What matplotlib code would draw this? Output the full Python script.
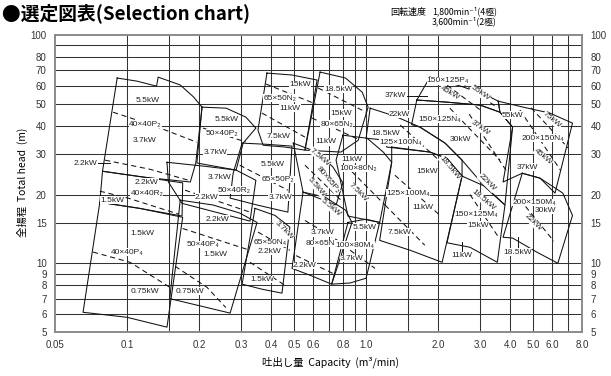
import matplotlib.pyplot as plt
from matplotlib.ticker import FixedLocator, NullLocator, FixedFormatter

CJK = ['Noto Sans CJK JP', 'DejaVu Sans']
LAB = ['Liberation Sans', 'DejaVu Sans']

# axis grid / ticks
x_grid = [0.1, 0.15, 0.2, 0.3, 0.4, 0.5, 0.6, 0.7, 0.8, 0.9, 1.0, 1.5, 2.0, 3.0, 4.0, 5.0, 6.0, 7.0]
x_ticks = [0.05, 0.1, 0.2, 0.3, 0.4, 0.5, 0.6, 0.8, 1.0, 2.0, 3.0, 4.0, 5.0, 6.0, 8.0]
x_tick_labels = ['0.05', '0.1', '0.2', '0.3', '0.4', '0.5', '0.6', '0.8', '1.0',
                 '2.0', '3.0', '4.0', '5.0', '6.0', '8.0']
y_grid = [6, 7, 8, 9, 10, 15, 20, 30, 40, 50, 60, 70, 80, 90]
y_ticks = [5, 6, 7, 8, 9, 10, 15, 20, 30, 40, 50, 60, 70, 80, 100]

# pump envelopes (capacity m3/min, head m)
env_40x40P2 = [(0.091, 64.8), (0.11, 62.8), (0.133, 59.7), (0.135, 65.4), (0.167, 60.4), (0.19, 53.5),
               (0.206, 48.3), (0.194, 27.5), (0.184, 22.7), (0.119, 23.8), (0.079, 25.3)]
env_50x40P2 = [(0.206, 48.3), (0.26, 47.8), (0.314, 43.7), (0.346, 39.1), (0.306, 33.6), (0.286, 25.6),
               (0.196, 27.5)]
env_65x50N2 = [(0.385, 68.1), (0.49, 66.8), (0.624, 63.5), (0.555, 31.3), (0.458, 32.3), (0.371, 32.9),
               (0.353, 38.3)]
env_80x65N2 = [(0.642, 68.8), (0.82, 64.8), (0.963, 56.2), (1.02, 48.3), (0.927, 34.6), (0.785, 30.7),
               (0.555, 31.3)]
env_40x40R2 = [(0.079, 25.3), (0.119, 23.8), (0.171, 22.5), (0.170, 16.1), (0.113, 17.4), (0.077, 18.5)]
env_40x40P4 = [(0.077, 18.5), (0.113, 17.4), (0.171, 15.9), (0.147, 5.25), (0.1, 5.8), (0.0655, 6.1)]
env_50x40R2 = [(0.147, 27.7), (0.212, 26.6), (0.286, 25.6), (0.346, 23.1), (0.327, 15.3), (0.17, 18.3),
               (0.149, 22.7)]
env_50x40P4 = [(0.167, 18.9), (0.229, 18.0), (0.296, 16.6), (0.35, 15.1), (0.27, 6.05), (0.203, 6.5),
               (0.151, 7.0)]
env_65x50P2 = [(0.303, 33.6), (0.385, 33.2), (0.49, 32.6), (0.471, 16.75), (0.35, 18.0), (0.27, 19.3),
               (0.278, 24.8)]
env_80x65P2 = [(0.496, 33.6), (0.624, 30.7), (0.727, 26.4), (0.8, 22.5), (0.749, 18.0), (0.545, 20.5)]
env_100x80N2 = [(0.8, 36.4), (1.01, 35.3), (1.18, 30.7), (1.28, 27.7), (1.14, 15.1), (0.84, 16.1),
                (0.749, 28.3)]
env_65x50N4 = [(0.343, 17.4), (0.416, 16.2), (0.48, 14.4), (0.445, 7.4), (0.367, 7.7), (0.303, 8.1)]
env_80x65N4 = [(0.545, 20.5), (0.673, 19.5), (0.82, 17.1), (0.873, 15.1), (0.718, 8.1), (0.593, 8.8),
               (0.49, 9.5)]
env_100x80M4 = [(0.84, 15.1), (1.0, 15.6), (1.14, 15.1), (1.0, 8.6), (0.858, 8.2), (0.718, 8.1)]
env_125x100N = [(1.04, 47.8), (1.32, 44.1), (1.68, 39.5), (2.14, 33.6), (2.52, 28.3), (2.52, 24.1),
                (2.18, 28.8), (1.85, 30.7), (1.22, 32.3), (1.22, 34.6), (1.0, 35.3)]
env_125x100M = [(1.28, 32.3), (1.85, 30.7), (2.18, 28.8), (2.52, 24.1), (2.08, 10.1), (1.53, 11.4),
                (1.14, 12.6), (1.28, 27.7)]
env_150x125P = [(1.85, 65.4), (2.55, 59.2), (3.3, 53.5), (3.57, 51.3), (3.63, 45.9), (3.0, 49.3),
                (2.18, 50.8), (1.63, 51.9)]
env_150x125N = [(1.63, 51.9), (2.18, 50.8), (3.0, 49.3), (3.63, 45.9), (4.1, 39.5), (3.81, 18.0),
                (3.12, 21.8), (2.52, 28.3), (2.14, 33.6), (1.68, 39.5), (1.55, 40.5)]
env_150x125M = [(2.52, 24.1), (3.12, 21.8), (3.81, 18.0), (3.54, 10.1), (2.72, 11.75), (2.18, 12.3)]
env_200x150N = [(3.57, 51.3), (4.54, 48.3), (5.87, 45.5), (7.3, 41.1), (6.17, 20.3), (5.34, 23.6),
                (4.5, 24.8), (3.74, 22.7), (4.1, 39.5), (3.63, 45.9)]
env_200x150M = [(4.5, 24.8), (5.34, 23.6), (6.65, 20.3), (7.3, 16.2), (6.34, 10.0), (5.17, 11.2),
                (4.1, 12.9), (3.74, 13.0)]

envelopes = [env_40x40P2, env_50x40P2, env_65x50N2, env_80x65N2, env_40x40R2, env_40x40P4,
             env_50x40R2, env_50x40P4, env_65x50P2, env_80x65P2, env_100x80N2, env_65x50N4,
             env_80x65N4, env_100x80M4, env_125x100N, env_125x100M, env_150x125P, env_150x125N,
             env_150x125M, env_200x150N, env_200x150M]

# motor power boundaries (dashed)
power_lines = [
    [(0.0875, 45.9), (0.131, 39.9), (0.196, 33.9)],
    [(0.081, 28.3), (0.125, 25.8), (0.181, 23.1)],
    [(0.208, 39.1), (0.314, 34.0)],
    [(0.381, 61.0), (0.617, 49.8)],
    [(0.367, 45.5), (0.555, 35.7)],
    [(0.63, 58.6), (1.0, 45.9)],
    [(0.593, 43.3), (0.945, 34.6)],
    [(0.077, 20.7), (0.101, 19.3), (0.165, 16.4)],
    [(0.0721, 11.2), (0.103, 10.1), (0.151, 7.85)],
    [(0.175, 20.9), (0.327, 16.75)],
    [(0.171, 14.2), (0.327, 11.4)],
    [(0.159, 9.7), (0.216, 7.85), (0.259, 6.4)],
    [(0.296, 26.9), (0.471, 20.9)],
    [(0.555, 26.9), (0.785, 18.9)],
    [(0.82, 26.9), (1.2, 18.0)],
    [(0.353, 13.7), (0.48, 11.4)],
    [(0.327, 10.1), (0.458, 8.0)],
    [(0.555, 15.4), (0.82, 12.0)],
    [(0.51, 10.8), (0.747, 8.9)],
    [(0.858, 11.4), (1.09, 9.5)],
    [(1.39, 40.3), (2.24, 25.6)],
    [(1.32, 24.3), (2.04, 16.2)],
    [(1.2, 18.0), (1.76, 12.0)],
    [(2.04, 63.5), (3.0, 47.0)],
    [(2.5, 62.0), (3.5, 48.5)],
    [(2.24, 47.8), (3.63, 28.3)],
    [(2.7, 45.0), (3.9, 25.0)],
    [(2.72, 20.0), (3.6, 12.9)],
    [(4.4, 46.9), (6.5, 25.6)],
    [(4.9, 48.0), (7.0, 32.0)],
    [(4.4, 19.0), (6.1, 12.5)],
]

# motor / model labels: text, capacity, head, rotation
labels = [
    ('5.5kW', 0.122, 51.9, 0), ('40×40P₂', 0.119, 40.7, 0), ('3.7kW', 0.119, 34.6, 0),
    ('5.5kW', 0.26, 42.8, 0), ('50×40P₂', 0.25, 37.2, 0), ('3.7kW', 0.234, 30.7, 0),
    ('15kW', 0.529, 60.4, 0), ('65×50N₂', 0.437, 52.9, 0), ('11kW', 0.48, 47.8, 0),
    ('7.5kW', 0.43, 36.0, 0),
    ('18.5kW', 0.77, 58.0, 0), ('15kW', 0.785, 45.5, 0), ('80×65N₂', 0.754, 40.7, 0),
    ('11kW', 0.68, 34.0, 0),
    ('2.2kW', 0.121, 22.7, 0), ('40×40R₂', 0.121, 20.3, 0), ('1.5kW', 0.087, 18.9, 0),
    ('1.5kW', 0.116, 13.5, 0), ('40×40P₄', 0.1, 11.2, 0), ('0.75kW', 0.119, 7.55, 0),
    ('3.7kW', 0.243, 23.8, 0), ('50×40R₂', 0.28, 20.9, 0), ('2.2kW', 0.216, 19.5, 0),
    ('2.2kW', 0.24, 15.6, 0), ('50×40P₄', 0.208, 12.1, 0), ('1.5kW', 0.234, 10.9, 0),
    ('0.75kW', 0.184, 7.55, 0),
    ('5.5kW', 0.405, 27.2, 0), ('65×50P₂', 0.43, 23.3, 0), ('3.7kW', 0.437, 19.5, 0),
    ('7.5kW', 0.642, 29.2, -40), ('80×65P₂', 0.69, 23.1, -50), ('5.5kW', 0.62, 21.6, -50),
    ('5.5kW', 0.71, 17.6, -40),
    ('11kW', 0.87, 28.6, 0), ('100×80N₂', 0.93, 26.0, 0), ('7.5kW', 0.93, 20.5, -45),
    ('3.7kW', 0.454, 14.0, -45), ('65×50N₄', 0.396, 12.3, 0), ('2.2kW', 0.396, 11.3, 0),
    ('1.5kW', 0.367, 8.5, 0),
    ('3.7kW', 0.655, 13.6, 0), ('80×65N₄', 0.655, 12.2, 0), ('2.2kW', 0.555, 9.8, 0),
    ('5.5kW', 0.99, 14.4, 0), ('100×80M₄', 0.9, 12.0, 0), ('3.7kW', 0.873, 10.5, 0),
    ('150×125P₄', 2.2, 62.9, 0), ('45kW', 2.24, 55.6, -30), ('55kW', 3.0, 55.6, -35),
    ('22kW', 1.38, 45.0, 0), ('150×125N₄', 2.04, 42.8, 0), ('37kW', 3.0, 39.1, -35),
    ('30kW', 2.47, 35.0, 0),
    ('18.5kW', 1.21, 37.2, 0), ('125×100N₄', 1.4, 33.9, 0),
    ('55kW', 4.1, 44.6, 0), ('75kW', 6.0, 42.4, -40), ('200×150N₄', 5.5, 35.3, 0),
    ('45kW', 5.5, 29.2, -40), ('37kW', 4.72, 26.4, 0),
    ('15kW', 1.8, 25.3, 0), ('18.5kW', 2.24, 26.1, -50), ('22kW', 3.2, 22.5, -45),
    ('18.5kW', 3.1, 18.9, -40),
    ('125×100M₄', 1.5, 20.3, 0), ('11kW', 1.72, 17.6, 0), ('7.5kW', 1.38, 13.7, 0),
    ('150×125M₄', 2.9, 16.4, 0), ('15kW', 2.93, 14.7, 0), ('11kW', 2.52, 10.8, 0),
    ('200×150M₄', 5.05, 18.5, 0), ('30kW', 5.6, 17.1, 0), ('22kW', 5.0, 15.1, -45),
    ('18.5kW', 4.3, 11.2, 0),
]

# leader lines pointing at narrow zones
leaders = [
    [(0.0755, 27.4), (0.085, 27.4)],
    [(1.48, 54.3), (1.8, 54.3)],
    [(2.52, 11.3), (2.52, 12.4)],
    [(4.33, 11.7), (4.33, 13.0)],
]
leader_texts = [('2.2kW', 0.075, 27.4, 'right'), ('37kW', 1.47, 54.3, 'right')]

fig = plt.figure(figsize=(6.11, 3.76), dpi=100)
ax = fig.add_axes([55 / 611, 1 - 332 / 376, 527 / 611, 297 / 376])
ax.set_xscale('log')
ax.set_yscale('log')
ax.set_xlim(0.05, 8.0)
ax.set_ylim(5, 100)

for g in x_grid:
    ax.axvline(g, color='#333333', lw=0.75, zorder=1)
for g in y_grid:
    ax.axhline(g, color='#333333', lw=0.75, zorder=1)

ax.xaxis.set_major_locator(FixedLocator(x_ticks))
ax.xaxis.set_major_formatter(FixedFormatter(x_tick_labels))
ax.xaxis.set_minor_locator(NullLocator())
ax.yaxis.set_major_locator(FixedLocator(y_ticks))
ax.yaxis.set_major_formatter(FixedFormatter([str(v) for v in y_ticks]))
ax.yaxis.set_minor_locator(NullLocator())
ax.tick_params(length=0, labelsize=7, colors='#333333', pad=6,
               labelleft=True, labelright=True)
for t in ax.get_xticklabels() + ax.get_yticklabels():
    t.set_family(LAB)
for s in ax.spines.values():
    s.set_color('#8a8a8a')
    s.set_linewidth(1.4)

for env in envelopes:
    xs = [p[0] for p in env] + [env[0][0]]
    ys = [p[1] for p in env] + [env[0][1]]
    ax.plot(xs, ys, color='#111111', lw=0.75, zorder=3)

for ln in power_lines:
    ax.plot([p[0] for p in ln], [p[1] for p in ln], color='#111111', lw=0.75,
            ls=(0, (5, 3.5)), zorder=3)

for ln in leaders:
    ax.plot([p[0] for p in ln], [p[1] for p in ln], color='#111111', lw=0.7, zorder=3)

for txt, q, h, rot in labels:
    ax.text(q, h, txt, fontsize=6, family=LAB, color='#222222', rotation=rot,
            ha='center', va='center', zorder=5,
            bbox=dict(facecolor='white', edgecolor='none', pad=0.2))
for txt, q, h, ha in leader_texts:
    ax.text(q, h, txt, fontsize=6, family=LAB, color='#222222', ha=ha, va='center', zorder=5)

fig.text(2 / 611, 1 - 13 / 376, '●選定図表(Selection chart)', fontsize=13.5, fontweight='bold',
         family=CJK, ha='left', va='center')
fig.text(390 / 611, 1 - 12 / 376, '回転速度', fontsize=6.5, family=CJK, ha='left', va='center')
fig.text(432 / 611, 1 - 11 / 376, '1,800min⁻¹(4極)', fontsize=6.3, family=CJK, ha='left', va='center')
fig.text(432 / 611, 1 - 21 / 376, '3,600min⁻¹(2極)', fontsize=6.3, family=CJK, ha='left', va='center')

fig.text(22 / 611, 1 - 182 / 376, '全揚程  Total head  (m)', fontsize=7.5, family=CJK,
         rotation=90, ha='center', va='center')
fig.text(330 / 611, 1 - 362 / 376, '吐出し量  Capacity  (m³/min)', fontsize=7.5, family=CJK,
         ha='center', va='center')

fig.savefig('out.png', dpi=100)
